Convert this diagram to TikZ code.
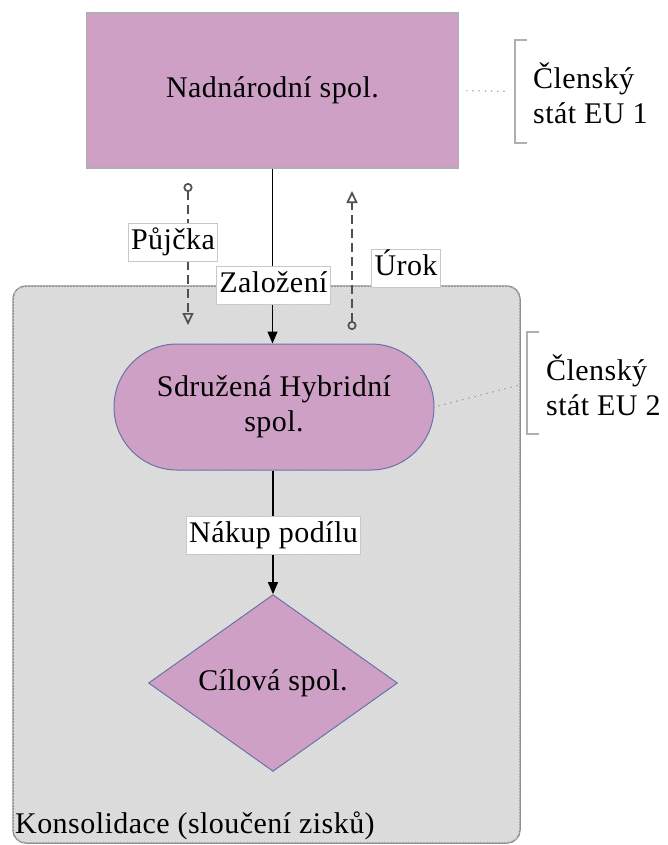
\documentclass[tikz,border=0pt]{standalone}
\usepackage{fontspec}
\setmainfont[LetterSpace=1.5]{Liberation Serif}
\usetikzlibrary{shapes.misc,shapes.geometric,arrows.meta,patterns}

\definecolor{mauve}{RGB}{207,160,197}
\definecolor{mauveedge}{RGB}{105,115,165}
\definecolor{panel}{RGB}{225,225,225}
\definecolor{panelline}{RGB}{210,210,210}
\definecolor{paneledge}{RGB}{140,140,140}
\definecolor{boxedge}{RGB}{175,175,175}
\definecolor{tagedge}{RGB}{200,200,200}
\definecolor{flow}{RGB}{80,80,80}
\definecolor{leadercol}{RGB}{150,150,150}

\begin{document}
\begin{tikzpicture}[x=1pt,y=-1pt,
  every node/.style={font=\fontsize{30}{35}\selectfont},
  entity/.style={draw=mauveedge, line width=1pt, fill=mauve, inner sep=0pt},
  tag/.style={draw=tagedge, fill=white, line width=1pt, inner xsep=3pt,
    inner ysep=5pt, text height=21pt, text depth=7pt},
  mainflow/.style={draw=black, line width=1.3pt, -{Triangle[width=10pt,length=12pt]}},
  money/.style={draw=flow, line width=1.7pt, dash pattern=on 9pt off 5pt,
    {Circle[open,length=9pt,width=9pt]}-{Triangle[open,width=11pt,length=12pt]}},
  leader/.style={draw=leadercol, line width=1.2pt, dash pattern=on 1.2pt off 5pt},
  bracket/.style={draw=boxedge, line width=2.5pt},
  member/.style={anchor=west, align=left, inner sep=0pt},
]
\useasboundingbox (0,0) rectangle (668,845);

% consolidation panel
\node[draw=paneledge, line width=1.5pt, rounded corners=13pt, fill=panel,
  minimum width=507pt, minimum height=557pt,
  postaction={pattern=north east lines, pattern color=panelline}] (cons) at (266.5,564.5) {};
\node[anchor=base west, inner sep=0pt] (consname) at (15,833) {Konsolidace (sloučení zisků)};

% companies
\node[draw=boxedge, line width=1.5pt, fill=mauve, minimum width=372pt,
  minimum height=155pt, inner sep=0pt] (parent) at (272.5,90.5) {Nadnárodní spol.};
\node[entity, rounded rectangle, minimum width=320pt, minimum height=126pt,
  align=center] (joint) at (274,407) {Sdružená Hybridní\\spol.};
\node[entity, diamond, minimum width=249pt, minimum height=170pt] (target) at (273,683) {Cílová spol.};

% ownership flows
\draw[mainflow] (parent.south) -- (parent.south |- joint.north);
\draw[mainflow] (joint.south -| target.north) -- (target.north);

% loan and interest flows
\coordinate (loanA) at (188,183);
\coordinate (loanB) at (188,325);
\draw[money] (loanA) -- (loanB);
\coordinate (intA) at (352,330);
\coordinate (intB) at (352,191);
\draw[money] (intA) -- (intB);

% flow labels
\node[tag] (found) at (273.5,285) {Založení};
\node[tag] (loan) at (173,242.5) {Půjčka};
\node[tag] (interest) at (406,268) {Úrok};
\node[tag] (buy) at (273.5,535.5) {Nákup podílu};

% member state annotations
\coordinate (br1) at (515,91.5);
\draw[leader, shorten <=7pt, shorten >=7pt] (parent.east) -- (br1);
\draw[bracket] (br1) ++(12,-51.5) -- ++(-12,0) -- ++(0,103) -- ++(12,0);
\node[member] (eu1) at (533,93) {Členský\\stát EU 1};

\coordinate (br2) at (527,383);
\draw[leader, shorten <=4pt, shorten >=7pt] (joint.east) -- (br2);
\draw[bracket] (br2) ++(12,-51) -- ++(-12,0) -- ++(0,102) -- ++(12,0);
\node[member] (eu2) at (546,385) {Členský\\stát EU 2};
\end{tikzpicture}
\end{document}
